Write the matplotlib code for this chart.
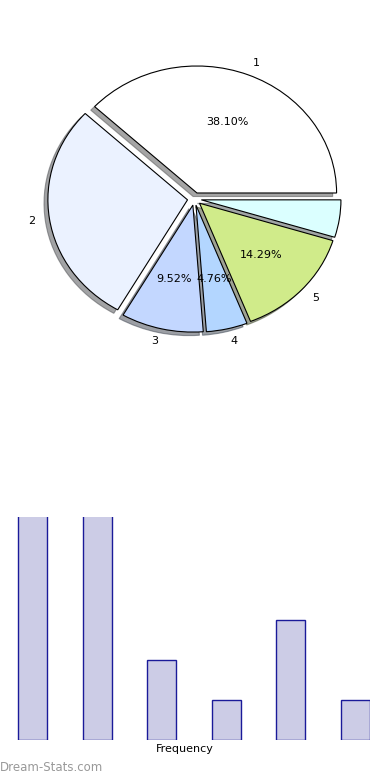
import numpy as np
import matplotlib
matplotlib.use("Agg")
import matplotlib.pyplot as plt

# datos
categorias = ["1", "2", "3", "4", "5", "6"]
frecuencia = [8, 6, 2, 1, 3, 1]
etiquetas = ["1", "2", "3", "4", "5", ""]
colores = ["#ffffff", "#ebf2ff", "#c3d7ff", "#b3d6ff", "#d0eb8a", "#dbffff"]
explotar = [0.05, 0.05, 0.05, 0.05, 0.05, 0.05]

fig = plt.figure(figsize=(3.9, 7.8), dpi=100)

# pastel
ax1 = fig.add_axes([0.051, 0.5415, 0.895, 0.407])
wedges, texts, autotexts = ax1.pie(frecuencia, labels=etiquetas, colors=colores,
                                   explode=explotar, shadow=True, startangle=0,
                                   autopct="%.2f%%",
                                   wedgeprops=dict(edgecolor="black", linewidth=0.8),
                                   textprops=dict(fontsize=8))
# solo algunos porcentajes se ven en el original
autotexts[1].set_text("")
autotexts[5].set_text("")
ax1.set_aspect("auto")

# barras
ax2 = fig.add_axes([0.0, 0.0513, 0.9487, 0.286])
x = np.arange(len(categorias))
ax2.bar(x, frecuencia, width=0.45, color="#cccce6", edgecolor="#1a1a99", linewidth=1.0)
ax2.set_xlim(-0.51, 5.23)
ax2.set_ylim(0, 5.58)
ax2.set_xticks([])
ax2.set_yticks([])
for s in ax2.spines.values():
    s.set_visible(False)
ax2.set_xlabel("Frequency", fontsize=8, labelpad=3)

fig.text(0.0, 0.0115, "Dream-Stats.com", fontsize=8.5, color="#999999")

plt.savefig("out.png")
plt.close()
